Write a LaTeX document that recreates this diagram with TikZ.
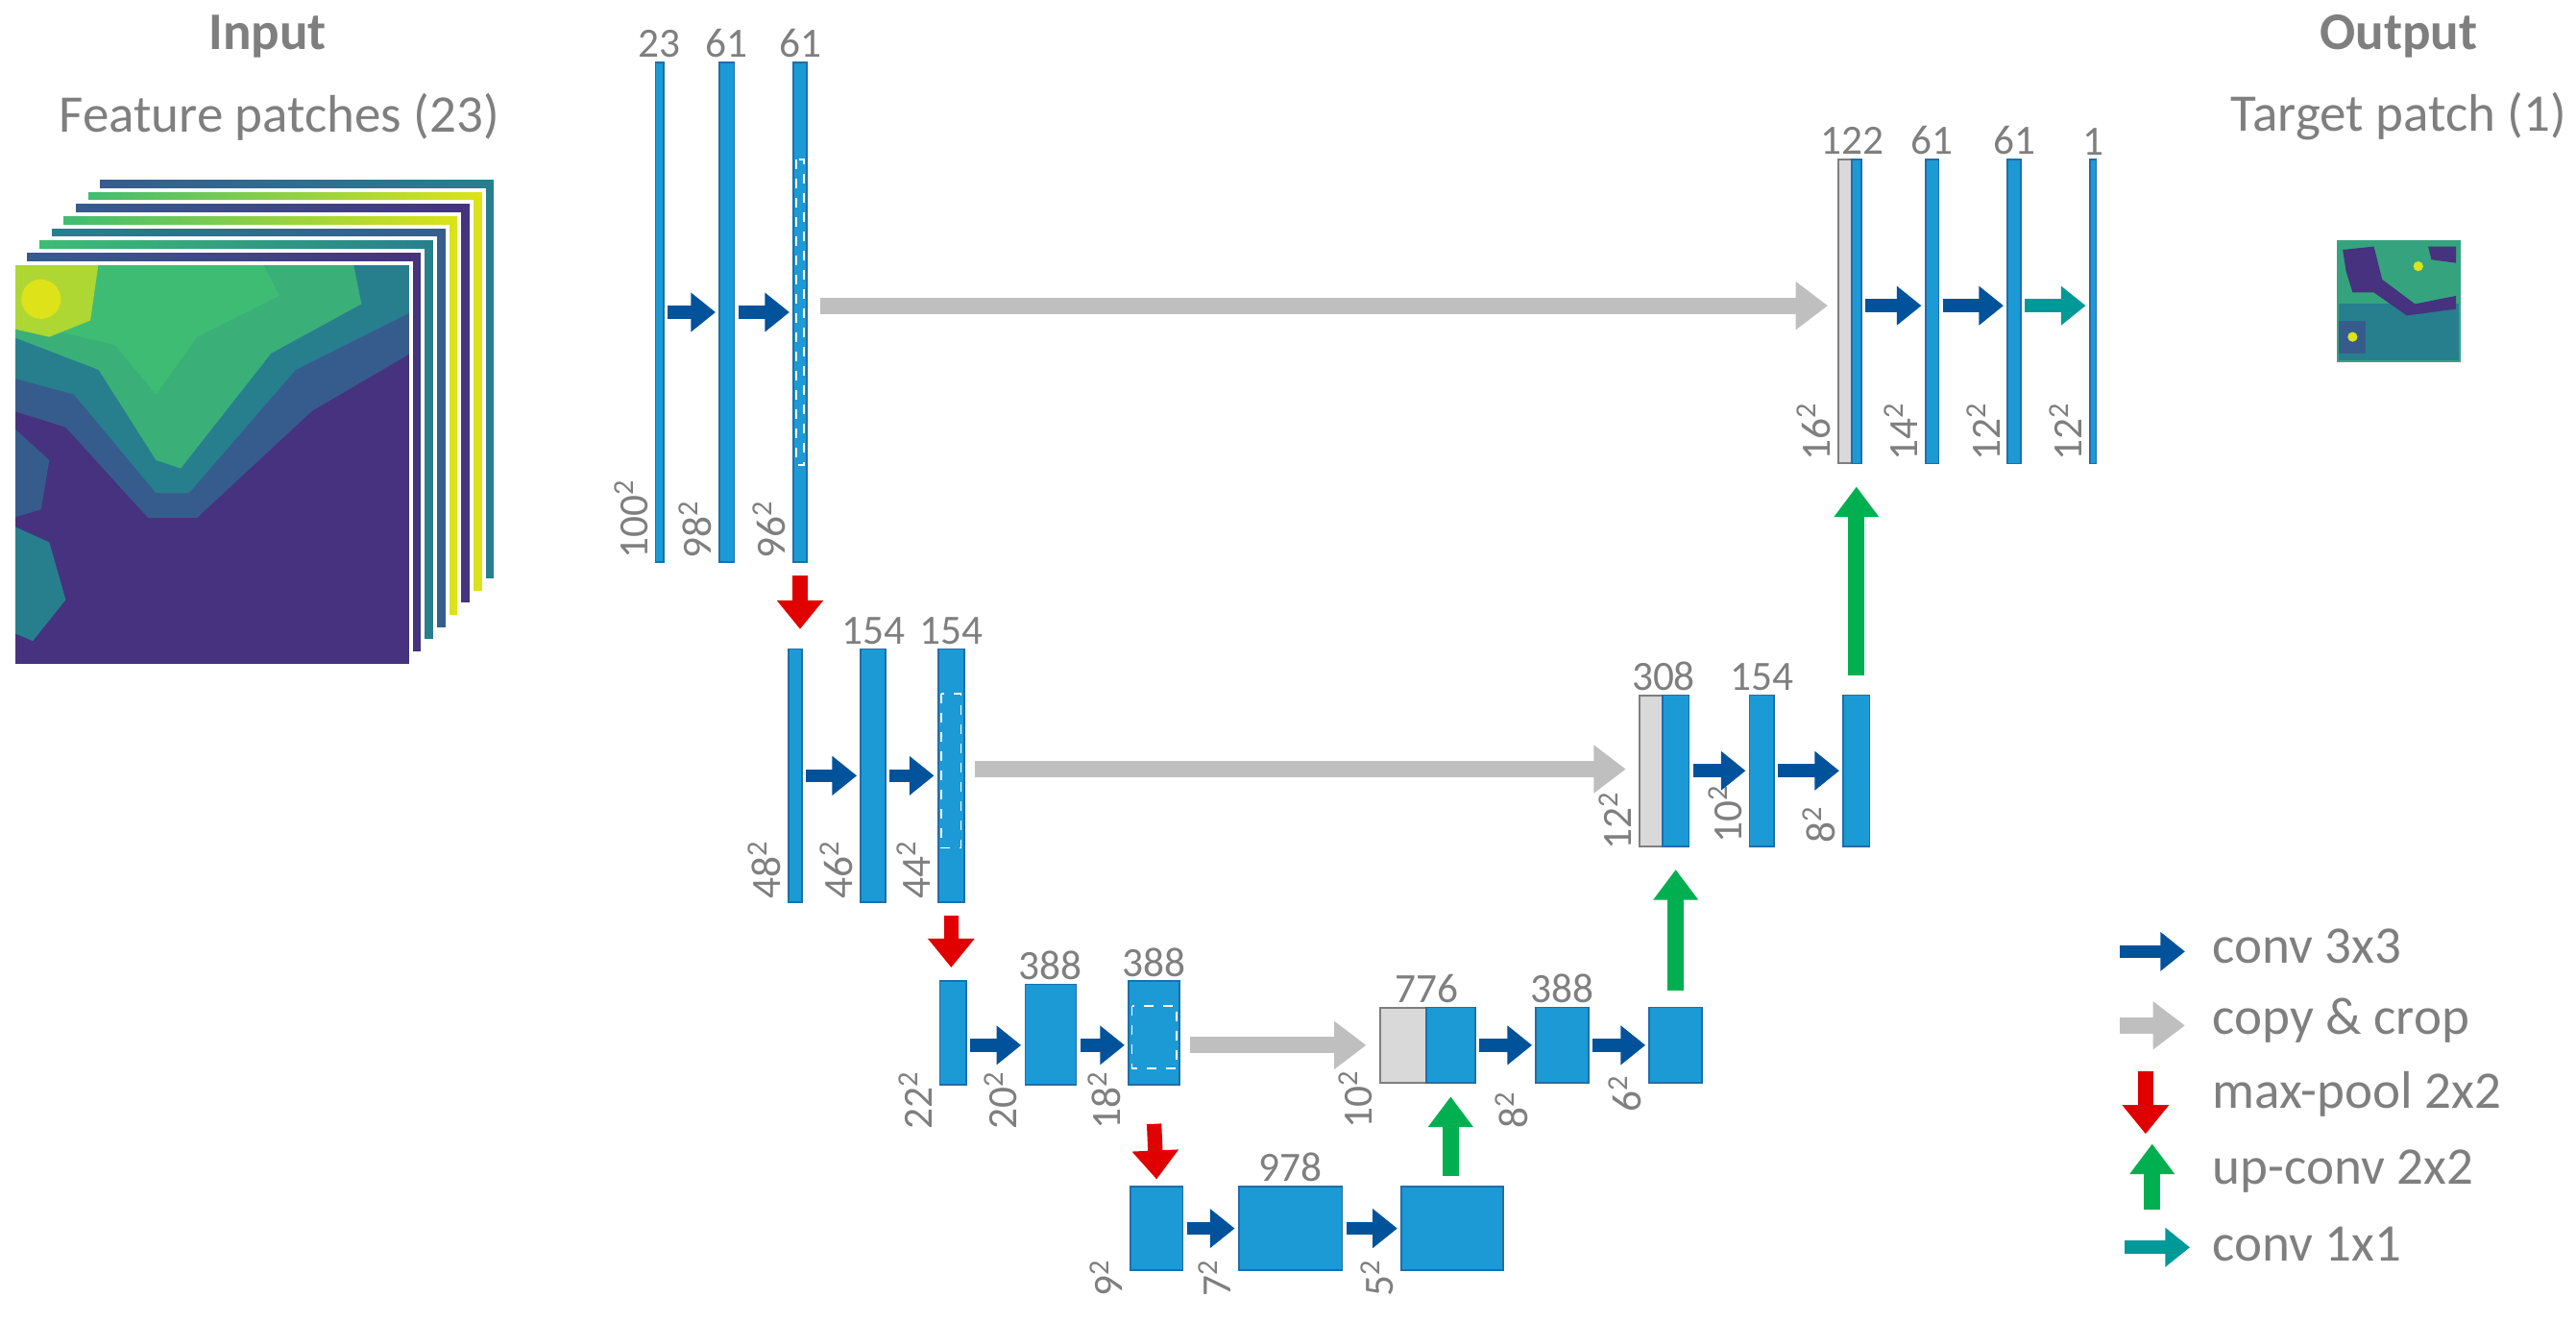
\documentclass[tikz,border=0pt]{standalone}
\usepackage{fontspec}
\setmainfont{Carlito}
\usetikzlibrary{arrows.meta,fit}
\definecolor{bfill}{HTML}{1B9AD6}
\definecolor{bline}{HTML}{1F6FA8}
\definecolor{convc}{HTML}{00529B}
\definecolor{copyc}{HTML}{BFBFBF}
\definecolor{poolc}{HTML}{E00000}
\definecolor{upc}{HTML}{00B050}
\definecolor{onec}{HTML}{009999}
\definecolor{txt}{HTML}{7F7F7F}
\definecolor{gbox}{HTML}{D9D9D9}
\definecolor{vpur}{HTML}{46327E}
\definecolor{vblu}{HTML}{365C8D}
\definecolor{vtea}{HTML}{277F8E}
\definecolor{vgrn}{HTML}{3FBC73}
\definecolor{vyel}{HTML}{DDE318}
\tikzset{
  blk/.style={draw=bline,fill=bfill,line width=0.5pt,inner sep=0pt},
  gblk/.style={draw=txt,fill=gbox,line width=0.6pt,inner sep=0pt},
  crop/.style={draw=white,dashed,line width=0.5pt},
  num/.style={text=txt,font=\fontsize{13}{14}\selectfont,inner sep=1pt},
  dim/.style={text=txt,font=\fontsize{13}{14}\selectfont,inner sep=1pt,rotate=90,anchor=south west},
  title/.style={text=txt,font=\fontsize{16.5}{18}\selectfont},
  leg/.style={text=txt,font=\fontsize{16.5}{18}\selectfont,anchor=west},
  conv/.style={draw=convc,line width=4.1pt,-{Triangle[length=7.7pt,width=11.8pt]},shorten <=1pt,shorten >=1pt},
  one/.style={draw=onec,line width=4.1pt,-{Triangle[length=7.7pt,width=11.8pt]},shorten <=1pt,shorten >=1pt},
  copy/.style={draw=copyc,line width=5.1pt,-{Triangle[length=10pt,width=14.4pt]}},
  pool/.style={draw=poolc,line width=4.6pt,-{Triangle[length=9pt,width=14pt]}},
  up/.style={draw=upc,line width=5.1pt,-{Triangle[length=9.5pt,width=13.5pt]}},
}
\newcommand\blkn[6][blk]{\node[#1,fit={(#3,#5)(#4,#6)}] (#2) {};}
\begin{document}
\begin{tikzpicture}[x=0.5131pt,y=-0.5131pt]
\useasboundingbox (0,0) rectangle (1568,805);
% ---------- input stack
\foreach \k/\ca/\cb in {7/vblu/vtea,6/vgrn/vyel,5/vblu/vpur,4/vgrn/vyel,3/vtea/vblu,2/vgrn/vtea,1/vblu/vpur}{
  \fill[left color=\ca,right color=\cb,draw=white,line width=1.2pt]
    ({8+7.4*\k},{160-7.4*\k}) rectangle ({250+7.4*\k},{405-7.4*\k});
}
\begin{scope}
\clip (8,160) rectangle (250,405);
\fill[vpur] (8,160) rectangle (250,405);
\fill[vblu] (8,160) -- (250,160) -- (250,215) -- (190,250) -- (120,315) -- (90,315) -- (40,260) -- (8,250) -- cycle;
\fill[vtea] (8,160) -- (250,160) -- (250,190) -- (180,225) -- (115,300) -- (95,300) -- (45,240) -- (8,230) -- cycle;
\fill[vgrn!80!vtea] (8,160) -- (215,160) -- (220,185) -- (165,215) -- (110,285) -- (95,280) -- (60,225) -- (8,205) -- cycle;
\fill[vgrn] (8,160) -- (160,160) -- (170,180) -- (120,205) -- (95,240) -- (70,210) -- (8,195) -- cycle;
\fill[vyel!70!vgrn] (8,160) -- (60,160) -- (55,195) -- (30,205) -- (8,200) -- cycle;
\fill[vyel] (25,182) circle (12);
\fill[vtea] (8,320) -- (30,330) -- (40,365) -- (20,390) -- (8,385) -- cycle;
\fill[vblu] (8,260) -- (30,280) -- (25,310) -- (8,315) -- cycle;
\end{scope}
\draw[white,line width=1.2pt] (8,160) rectangle (250,405);
\node[title,font=\fontsize{16.5}{18}\selectfont\bfseries] (tin) at (163,22) {Input};
\node[title] (tfp) at (170,71) {Feature patches (23)};
% ---------- output
\node[title,font=\fontsize{16.5}{18}\selectfont\bfseries] (tout) at (1460,22) {Output};
\node[title] (ttp) at (1460,71) {Target patch (1)};
\begin{scope}
\clip (1423,147) rectangle (1497,220);
\fill[vgrn!60!vtea] (1423,147) rectangle (1497,220);
\fill[vtea] (1423,185) rectangle (1497,220);
\fill[vpur] (1426,152) -- (1445,150) -- (1450,170) -- (1470,185) -- (1495,180) -- (1495,188) -- (1465,192) -- (1445,178) -- (1432,178) -- (1428,165) -- cycle;
\fill[vpur] (1478,150) -- (1495,150) -- (1495,160) -- (1480,158) -- cycle;
\fill[vblu] (1423,195) rectangle (1440,215);
\fill[vyel] (1472,162) circle (3);
\fill[vyel] (1432,205) circle (3);
\end{scope}
\draw[vgrn!60!vtea,line width=0.6pt] (1423,147) rectangle (1497,220);
% ---------- level 1
\blkn{a1}{399}{404}{38}{342}
\blkn{a2}{438}{447}{38}{342}
\blkn{a3}{483}{491}{38}{342}
\draw[crop] (484.5,97) rectangle (489.5,283);
\node[num,anchor=south] at (a1.north) {23};
\node[num,anchor=south] at (a2.north) {61};
\node[num,anchor=south] at (a3.north) {61};
\node[dim] at ([xshift=-1pt]a1.south west) {100\textsuperscript{2}};
\node[dim] at ([xshift=-1pt]a2.south west) {98\textsuperscript{2}};
\node[dim] at ([xshift=-1pt]a3.south west) {96\textsuperscript{2}};
\draw[conv] (a1.east) -- (a2.west);
\draw[conv] (a2.east) -- (a3.west);
% ---------- level 2
\blkn{b1}{480}{488}{395}{549}
\blkn{b2}{524}{539}{395}{549}
\blkn{b3}{571}{587}{395}{549}
\draw[crop] (573,422) rectangle (585,516);
\node[num,anchor=south] at (b2.north) {154};
\node[num,anchor=south] at (b3.north) {154};
\node[dim] at ([xshift=-1pt]b1.south west) {48\textsuperscript{2}};
\node[dim] at ([xshift=-1pt]b2.south west) {46\textsuperscript{2}};
\node[dim] at ([xshift=-1pt]b3.south west) {44\textsuperscript{2}};
\draw[conv] (b1.east) -- (b2.west);
\draw[conv] (b2.east) -- (b3.west);
% ---------- level 3
\blkn{c1}{572}{588}{597}{660}
\blkn{c2}{624}{655}{599}{660}
\blkn{c3}{687}{718}{597}{660}
\draw[crop] (689,612) rectangle (716,650);
\node[num,anchor=south] at (c2.north) {388};
\node[num,anchor=south] at (c3.north) {388};
\node[dim] at ([xshift=-1pt,yshift=-15pt]c1.south west) {22\textsuperscript{2}};
\node[dim] at ([xshift=-1pt,yshift=-15pt]c2.south west) {20\textsuperscript{2}};
\node[dim] at ([xshift=-1pt,yshift=-15pt]c3.south west) {18\textsuperscript{2}};
\draw[conv] (c1.east|-0,636) -- (c2.west|-0,636);
\draw[conv] (c2.east|-0,636) -- (c3.west|-0,636);
% ---------- level 4
\blkn{d1}{688}{720}{722}{773}
\blkn{d2}{754}{817}{722}{773}
\blkn{d3}{853}{915}{722}{773}
\node[num,anchor=south] at (d2.north) {978};
\node[dim] at ([xshift=-1pt,yshift=-9pt]d1.south west) {9\textsuperscript{2}};
\node[dim] at ([xshift=-1pt,yshift=-9pt]d2.south west) {7\textsuperscript{2}};
\node[dim] at ([xshift=-1pt,yshift=-9pt]d3.south west) {5\textsuperscript{2}};
\draw[conv] (d1.east) -- (d2.west);
\draw[conv] (d2.east) -- (d3.west);
% ---------- up level 3
\blkn[gblk]{e0}{840}{868}{613}{659}
\blkn{e1}{868}{898}{613}{659}
\blkn{e2}{935}{967}{613}{659}
\blkn{e3}{1004}{1036}{613}{659}
\node[num,anchor=south] at (e0.north east) {776};
\node[num,anchor=south] at (e2.north) {388};
\node[dim] at ([xshift=-1pt,yshift=-15pt]e0.south west) {10\textsuperscript{2}};
\node[dim] at ([xshift=-1pt,yshift=-15pt]e2.south west) {8\textsuperscript{2}};
\node[dim] at ([xshift=-1pt,yshift=-10pt]e3.south west) {6\textsuperscript{2}};
\draw[conv] (e1.east) -- (e2.west);
\draw[conv] (e2.east) -- (e3.west);
% ---------- up level 2
\blkn[gblk]{f0}{998}{1012}{423}{515}
\blkn{f1}{1012}{1028}{423}{515}
\blkn{f2}{1065}{1080}{423}{515}
\blkn{f3}{1122}{1138}{423}{515}
\node[num,anchor=south] at (f0.north east) {308};
\node[num,anchor=south] at (f2.north) {154};
\node[dim] at ([xshift=-1pt,yshift=-2pt]f0.south west) {12\textsuperscript{2}};
\node[dim] at ([xshift=-1pt]f2.south west) {10\textsuperscript{2}};
\node[dim] at ([xshift=-1pt]f3.south west) {8\textsuperscript{2}};
\draw[conv] (f1.east) -- (f2.west);
\draw[conv] (f2.east) -- (f3.west);
% ---------- up level 1
\blkn[gblk]{g0}{1119}{1127}{97}{282}
\blkn{g1}{1127}{1133}{97}{282}
\blkn{g2}{1172}{1180}{97}{282}
\blkn{g3}{1222}{1230}{97}{282}
\blkn{g4}{1272}{1276}{97}{282}
\node[num,anchor=south] at (g0.north east) {122};
\node[num,anchor=south] at (g2.north) {61};
\node[num,anchor=south] at (g3.north) {61};
\node[num,anchor=south] at (g4.north) {1};
\node[dim] at ([xshift=-1pt]g0.south west) {16\textsuperscript{2}};
\node[dim] at ([xshift=-1pt]g2.south west) {14\textsuperscript{2}};
\node[dim] at ([xshift=-1pt]g3.south west) {12\textsuperscript{2}};
\node[dim] at ([xshift=-1pt]g4.south west) {12\textsuperscript{2}};
\draw[conv] (g1.east|-0,186) -- (g2.west|-0,186);
\draw[conv] (g2.east|-0,186) -- (g3.west|-0,186);
\draw[one] (g3.east|-0,186) -- (g4.west|-0,186);
% ---------- copy & crop
\draw[copy] ([xshift=4pt]a3.east|-0,186) -- ([xshift=-3pt]g0.west|-0,186);
\draw[copy] ([xshift=3pt]b3.east|-0,468) -- ([xshift=-4pt]f0.west|-0,468);
\draw[copy] ([xshift=3pt]c3.east|-0,636) -- ([xshift=-4pt]e0.west|-0,636);
% ---------- max pool
\draw[pool] ([yshift=-4pt]a3.south) -- ([yshift=6pt]b1.north-|a3.south);
\draw[pool] ([yshift=-4pt]b3.south) -- ([yshift=4pt]c1.north-|b3.south);
\draw[pool] ([yshift=-12pt]c3.south) -- ([yshift=2pt]d1.north);
% ---------- up conv
\draw[up] ([yshift=3pt]d3.north-|e1.south) -- ([yshift=-4pt]e1.south);
\draw[up] ([yshift=5pt]e3.north) -- ([yshift=-7pt]f1.south-|e3.north);
\draw[up] ([yshift=6pt]f3.north) -- ([yshift=-7pt]g1.south-|f3.north);
% ---------- legend
\coordinate (l1a) at (1290,579); \coordinate (l1b) at (1330,579);
\coordinate (l2a) at (1290,624); \coordinate (l2b) at (1330,624);
\coordinate (l3a) at (1306,652); \coordinate (l3b) at (1306,690);
\coordinate (l4a) at (1310,736); \coordinate (l4b) at (1310,696);
\coordinate (l5a) at (1293,759); \coordinate (l5b) at (1333,759);
\draw[conv,shorten <=0pt,shorten >=0pt] (l1a) -- (l1b);
\draw[copy] (l2a) -- (l2b);
\draw[pool] (l3a) -- (l3b);
\draw[up] (l4a) -- (l4b);
\draw[one,shorten <=0pt,shorten >=0pt] (l5a) -- (l5b);
\node[leg] at (1340,576) {conv 3x3};
\node[leg] at (1340,621) {copy \& crop};
\node[leg] at (1340,666) {max-pool 2x2};
\node[leg] at (1340,713) {up-conv 2x2};
\node[leg] at (1340,757) {conv 1x1};
\end{tikzpicture}
\end{document}
